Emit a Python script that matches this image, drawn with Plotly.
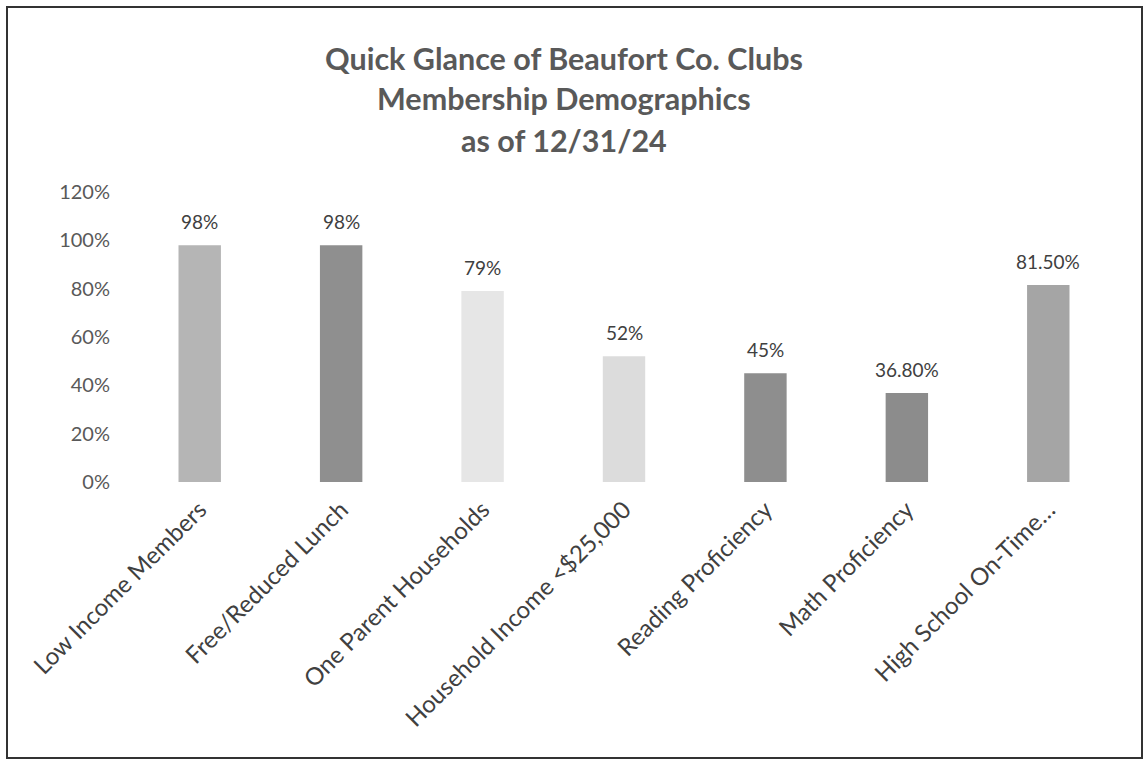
import plotly.graph_objects as go

categories = ["Low Income Members", "Free/Reduced Lunch", "One Parent Households",
              "Household Income <$25,000", "Reading Proficiency", "Math Proficiency",
              "High School On-Time…"]
values = [0.98, 0.98, 0.79, 0.52, 0.45, 0.368, 0.815]
value_labels = ["98%", "98%", "79%", "52%", "45%", "36.80%", "81.50%"]
bar_colors = ["#b5b5b5", "#8f8f8f", "#e6e6e6", "#dcdcdc", "#8e8e8e", "#8c8c8c", "#a5a5a5"]
y_ticks = [0, 0.2, 0.4, 0.6, 0.8, 1.0, 1.2]
y_tick_labels = ["0%", "20%", "40%", "60%", "80%", "100%", "120%"]
title_lines = ["Quick Glance of Beaufort Co. Clubs", "Membership Demographics", "as of 12/31/24"]

W, H = 1143, 760
L, R, T, B = 129, 24, 192, 278
pw, ph = W - L - R, H - T - B


def px_x(x):
    return (x - L) / pw


def px_y(y):
    return (H - B - y) / ph


fig = go.Figure()
fig.add_trace(go.Bar(
    x=categories, y=values, marker=dict(color=bar_colors, line=dict(width=0)),
    width=0.30, hoverinfo="skip", showlegend=False,
))

for c, v, t in zip(categories, values, value_labels):
    fig.add_annotation(x=c, y=v, text=t, showarrow=False, yanchor="bottom",
                       yshift=10, font=dict(family="Lato", size=19, color="#404040"))

for line, yc in zip(title_lines, [58, 98, 140]):
    fig.add_annotation(xref="paper", yref="paper", x=px_x(564), y=px_y(yc),
                       xanchor="center", yanchor="middle", text=line, showarrow=False,
                       font=dict(family="Lato", size=30.5, color="#595959", weight="bold"))

fig.add_shape(type="rect", xref="paper", yref="paper",
              x0=px_x(7), x1=px_x(1142), y0=px_y(758), y1=px_y(7),
              line=dict(color="#333333", width=2), fillcolor="rgba(0,0,0,0)", layer="below")

fig.update_layout(
    width=W, height=H,
    margin=dict(l=L, r=R, t=T, b=B, autoexpand=False),
    paper_bgcolor="white", plot_bgcolor="white",
    xaxis=dict(tickangle=-45, tickfont=dict(family="Lato", size=24, color="#404040"),
               showline=False, ticks="", showgrid=False, automargin=False,
               ticklabelstandoff=8),
    yaxis=dict(range=[0, 1.2], tickvals=y_ticks, ticktext=y_tick_labels,
               tickfont=dict(family="Lato", size=20, color="#595959"),
               showgrid=False, zeroline=False, showline=False, ticks="",
               ticklabelstandoff=18, automargin=False),
    bargap=0.7,
)

fig.write_html("out.html", config={"displayModeBar": False},
               post_script="document.body.style.margin='0';")
